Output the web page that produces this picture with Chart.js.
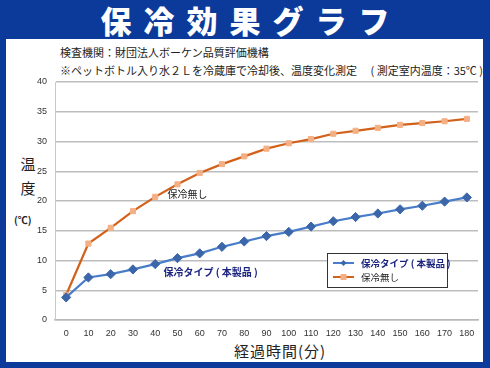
<!DOCTYPE html>
<html><head><meta charset="utf-8">
<script src="https://cdn.jsdelivr.net/npm/chart.js@4/dist/chart.umd.min.js"></script>
<style>
html,body{margin:0;padding:0;}
body{width:490px;height:368px;background:#0c3a9a;position:relative;overflow:hidden;font-family:"Noto Sans CJK JP","Noto Sans",sans-serif;}
#panel{position:absolute;left:6px;top:39px;width:477px;height:323px;background:#fff;}
#hdr{position:absolute;left:0;top:0;width:490px;height:39px;text-align:center;color:#fff;font-weight:900;font-size:31px;line-height:39px;letter-spacing:12px;padding-left:12px;box-sizing:border-box;}
.t{position:absolute;white-space:pre;color:#222;}
#s1{left:60px;top:44px;font-size:11px;line-height:16px;}
#s2{left:60px;top:62px;font-size:11px;line-height:16px;}
#yt{left:17px;top:152px;font-size:15px;line-height:24px;text-align:center;width:22px;}
#yt2{left:14px;top:212px;font-size:10px;font-weight:bold;}
#xt{left:0;width:560px;text-align:center;top:340px;font-size:15px;letter-spacing:1px;}
canvas{position:absolute;left:0;top:0;}
</style></head>
<body>
<div id="hdr">保冷効果グラフ</div>
<div id="panel"></div>
<div class="t" id="s1">検査機関：財団法人ボーケン品質評価機構</div>
<div class="t" id="s2">※ペットボトル入り水２Ｌを冷蔵庫で冷却後、温度変化測定　 ( 測定室内温度：35℃ )</div>
<div class="t" id="yt">温<br>度</div>
<div class="t" id="yt2">(℃)</div>
<div class="t" id="xt">経過時間(分)</div>
<canvas id="c" width="490" height="368"></canvas>
<script>
const minutes = ['0','10','20','30','40','50','60','70','80','90','100','110','120','130','140','150','160','170','180'];
const productType = [3.8,7.15,7.7,8.5,9.4,10.4,11.2,12.3,13.2,14.1,14.8,15.7,16.6,17.3,17.9,18.6,19.2,19.9,20.6];
const noInsulation = [4.2,12.85,15.5,18.3,20.7,22.8,24.7,26.2,27.5,28.8,29.7,30.4,31.3,31.8,32.3,32.8,33.1,33.4,33.8];
const seriesNames = ['保冷タイプ ( 本製品 )','保冷無し'];
const yTicks = [0,5,10,15,20,25,30,35,40];

const JP = '"Noto Sans CJK JP","Noto Sans",sans-serif';
const blueLine = '#4a7dc9', blueMark = '#3b67aa';
const orangeLine = '#d2611a', orangeMark = '#f4b084';

const overlay = {
  id:'overlay',
  afterDatasetsDraw(chart){
    const ctx = chart.ctx;
    const mB = chart.getDatasetMeta(0).data, mO = chart.getDatasetMeta(1).data;
    ctx.save();
    ctx.textBaseline='middle'; ctx.textAlign='center';
    ctx.font = '10px '+JP; ctx.fillStyle='#222';
    ctx.fillText(seriesNames[1], mO[5].x+10, mO[5].y+10);
    ctx.font = 'bold 10px '+JP; ctx.fillStyle='#1a237e';
    ctx.fillText(seriesNames[0], mB[6].x+11, mB[6].y+19);
    const lx=327, ly=253, lw=120, lh=34;
    ctx.fillStyle='#fff'; ctx.fillRect(lx,ly,lw,lh);
    ctx.strokeStyle='#333'; ctx.lineWidth=1; ctx.strokeRect(lx+0.5,ly+0.5,lw,lh);
    const rows=[{y:ly+10,c:blueLine,m:blueMark,shape:'d',f:'bold 9.5px '+JP,tc:'#1a237e',t:seriesNames[0]},
                {y:ly+24,c:orangeLine,m:orangeMark,shape:'s',f:'9.5px '+JP,tc:'#222',t:seriesNames[1]}];
    rows.forEach(r=>{
      ctx.strokeStyle=r.c; ctx.lineWidth=2;
      ctx.beginPath(); ctx.moveTo(lx+6,r.y); ctx.lineTo(lx+27,r.y); ctx.stroke();
      ctx.fillStyle=r.m;
      const cx=lx+16.5;
      if(r.shape==='d'){ctx.beginPath();ctx.moveTo(cx,r.y-3);ctx.lineTo(cx+3,r.y);ctx.lineTo(cx,r.y+3);ctx.lineTo(cx-3,r.y);ctx.closePath();ctx.fill();}
      else ctx.fillRect(cx-3,r.y-3,6,6);
      ctx.font=r.f; ctx.fillStyle=r.tc; ctx.textAlign='left';
      ctx.fillText(r.t, lx+34, r.y);
    });
    ctx.restore();
  }
};

new Chart(document.getElementById('c'), {
  type:'line',
  data:{labels:minutes, datasets:[
    {label:seriesNames[0], data:productType, borderColor:blueLine, backgroundColor:blueMark, borderWidth:2.2,
     pointStyle:'rectRot', pointRadius:4.6, pointBackgroundColor:blueMark, pointBorderColor:blueMark, pointBorderWidth:1, tension:0},
    {label:seriesNames[1], data:noInsulation, borderColor:orangeLine, backgroundColor:orangeMark, borderWidth:2.2,
     pointStyle:'rect', pointRadius:3.6, pointBackgroundColor:orangeMark, pointBorderColor:orangeMark, pointBorderWidth:1, tension:0}
  ]},
  options:{
    responsive:false, animation:false, devicePixelRatio:1,
    layout:{padding:{left:0,top:82,right:12,bottom:0}},
    plugins:{legend:{display:false}, tooltip:{enabled:false}},
    scales:{
      x:{offset:true,
        grid:{display:false, drawTicks:false},
        border:{display:true,color:'#b8b8b8',width:1.5},
        ticks:{color:'#333',font:{size:9,family:'"Liberation Sans",sans-serif'},padding:8,maxRotation:0,autoSkip:false},
        afterFit(s){s.height=48;}
      },
      y:{min:0,max:40,
        afterBuildTicks(s){s.ticks=yTicks.map(v=>({value:v}));},
        grid:{color:'#bdbdbd',lineWidth:1.5,drawTicks:false},
        border:{display:true,color:'#c8c8c8',width:1},
        ticks:{color:'#333',font:{size:9,family:'"Liberation Sans",sans-serif'},padding:8},
        afterFit(s){s.width=55;}
      }
    }
  },
  plugins:[overlay]
});
</script>
</body></html>
